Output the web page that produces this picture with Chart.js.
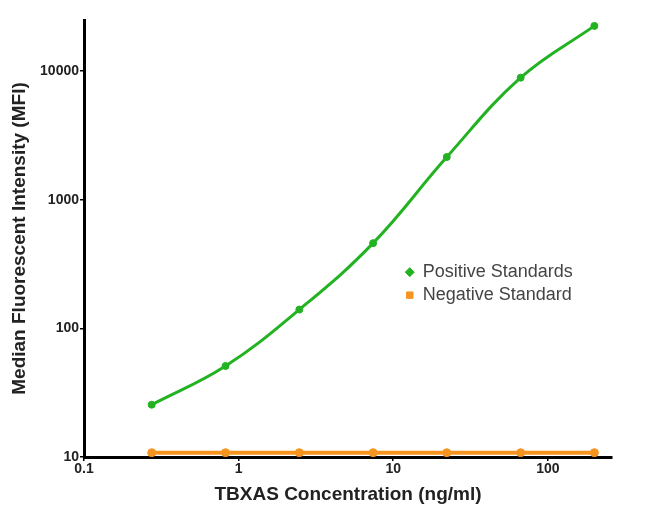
<!DOCTYPE html>
<html>
<head>
<meta charset="utf-8">
<script src="https://cdn.jsdelivr.net/npm/chart.js@4"></script>
<style>
  html, body { margin: 0; padding: 0; background: #fff; }
  #wrap { width: 650px; height: 514px; }
</style>
</head>
<body>
<div id="wrap"><canvas id="chart" width="650" height="514"></canvas></div>
<script>
// TBXAS standard curve
const concentrations = [0.274, 0.823, 2.47, 7.41, 22.2, 66.7, 200];
const positiveMFI = [25.5, 51, 140, 460, 2150, 8900, 22500];
const negativeMFI = [10.8, 10.8, 10.8, 10.8, 10.8, 10.8, 10.8];
const xTicks = [0.1, 1, 10, 100];
const yTicks = [10, 100, 1000, 10000];

const green = "rgb(34, 178, 34)";
const orange = "rgb(247, 148, 32)";

const toPoints = (ys) => concentrations.map((x, i) => ({ x: x, y: ys[i] }));

// legend drawn inside the plot area
const innerLegend = {
  id: "innerLegend",
  afterDraw(chart) {
    const { ctx, chartArea } = chart;
    const x0 = chartArea.left + 0.617 * (chartArea.right - chartArea.left);
    let y = chartArea.top + 0.577 * (chartArea.bottom - chartArea.top);
    ctx.save();
    ctx.font = "18px 'Liberation Sans', Arial, sans-serif";
    ctx.textBaseline = "middle";
    chart.data.datasets.forEach((ds) => {
      ctx.fillStyle = ds.borderColor;
      ctx.strokeStyle = ds.borderColor;
      Chart.helpers.drawPoint(ctx, { pointStyle: ds.legendStyle, radius: 4.5, borderWidth: 1 }, x0, y);
      ctx.fillStyle = "#444";
      ctx.fillText(ds.label, x0 + 13, y);
      y += 23;
    });
    ctx.restore();
  },
};

const tickFont = { family: "'Liberation Sans', Arial", size: 14, weight: "bold" };
const titleFont = { family: "'Liberation Sans', Arial", size: 19, weight: "bold" };

new Chart(document.getElementById("chart"), {
  type: "line",
  data: {
    datasets: [
      {
        label: "Positive Standards",
        data: toPoints(positiveMFI),
        borderColor: green,
        backgroundColor: green,
        borderWidth: 3,
        pointRadius: 3.5,
        pointBorderWidth: 1,
        legendStyle: "rectRot",
        tension: 0.4,
      },
      {
        label: "Negative Standard",
        data: toPoints(negativeMFI),
        borderColor: orange,
        backgroundColor: orange,
        borderWidth: 4,
        pointRadius: 4,
        pointBorderWidth: 1,
        legendStyle: "rect",
      },
    ],
  },
  options: {
    responsive: false,
    animation: false,
    layout: { padding: { top: 20, right: 38, left: 0, bottom: 0 } },
    plugins: { legend: { display: false }, tooltip: { enabled: false } },
    scales: {
      x: {
        type: "logarithmic",
        min: 0.1,
        max: 260,
        afterBuildTicks: (s) => { s.ticks = xTicks.map((v) => ({ value: v })); },
        afterFit: (s) => { s.height = 57; },
        border: { color: "#000", width: 3 },
        grid: { drawOnChartArea: false, color: "#000", tickLength: 4, lineWidth: 1.5 },
        ticks: {
          color: "#222",
          font: tickFont,
          padding: 0,
          maxRotation: 0,
          callback: (v) => String(v),
        },
        title: {
          display: true,
          text: "TBXAS Concentration (ng/ml)",
          color: "#222",
          font: titleFont,
          padding: { top: 0, bottom: 8 },
        },
      },
      y: {
        type: "logarithmic",
        min: 10,
        max: 25000,
        afterBuildTicks: (s) => { s.ticks = yTicks.map((v) => ({ value: v })); },
        afterFit: (s) => { s.width = 84; },
        border: { color: "#000", width: 3 },
        grid: { drawOnChartArea: false, color: "#000", tickLength: 4, lineWidth: 1.5 },
        ticks: {
          color: "#222",
          font: tickFont,
          padding: 1,
          callback: (v) => String(v),
        },
        title: {
          display: true,
          text: "Median Fluorescent Intensity (MFI)",
          color: "#222",
          font: titleFont,
          padding: { top: 8, bottom: 0 },
        },
      },
    },
  },
  plugins: [innerLegend],
});
</script>
</body>
</html>
